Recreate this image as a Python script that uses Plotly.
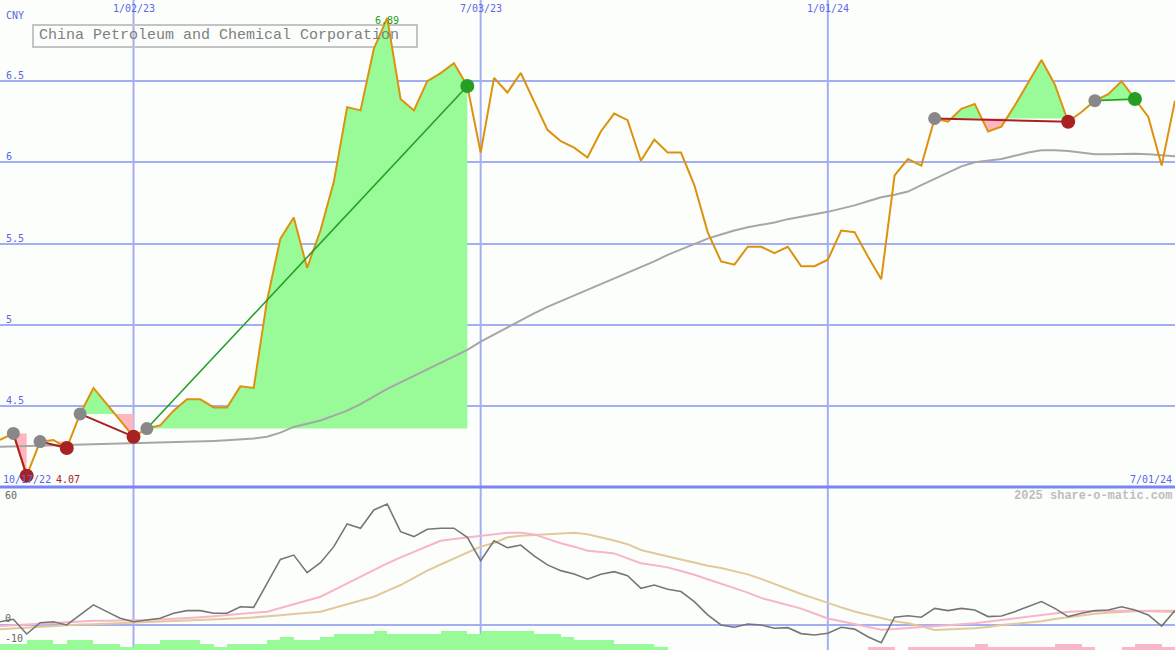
import pandas as pd
import plotly.graph_objects as go

# ---------------- data ----------------
start_date = "2022-10-24"
n_weeks = 89
dates = pd.date_range(start_date, periods=n_weeks, freq="7D")

price = [4.29, 4.33, 4.07, 4.28, 4.29, 4.24, 4.45, 4.61, 4.51, 4.41,
         4.31, 4.36, 4.38, 4.47, 4.54, 4.54, 4.49, 4.49, 4.62, 4.61,
         5.15, 5.53, 5.66, 5.35, 5.58, 5.88, 6.34, 6.32, 6.70, 6.89,
         6.39, 6.32, 6.50, 6.55, 6.61, 6.47, 6.06, 6.52, 6.43, 6.55,
         6.37, 6.20, 6.13, 6.09, 6.03, 6.19, 6.30, 6.26, 6.01, 6.14,
         6.06, 6.06, 5.86, 5.57, 5.39, 5.37, 5.48, 5.48, 5.44, 5.48,
         5.36, 5.36, 5.40, 5.58, 5.57, 5.42, 5.28, 5.92, 6.02, 5.98,
         6.27, 6.25, 6.33, 6.36, 6.19, 6.22, 6.35, 6.49, 6.63, 6.48,
         6.25, 6.31, 6.38, 6.42, 6.50, 6.39, 6.28, 5.98, 6.38]

ma_long = [4.248, 4.25, 4.252, 4.254, 4.256, 4.258, 4.26, 4.263, 4.266, 4.269,
           4.272, 4.274, 4.276, 4.277, 4.279, 4.281, 4.284, 4.288, 4.293, 4.299,
           4.31, 4.335, 4.37, 4.39, 4.41, 4.44, 4.47, 4.51, 4.56, 4.605,
           4.645, 4.685, 4.725, 4.765, 4.805, 4.845, 4.895, 4.94, 4.985, 5.03,
           5.07, 5.11, 5.145, 5.18, 5.215, 5.25, 5.285, 5.32, 5.355, 5.39,
           5.43, 5.465, 5.5, 5.53, 5.555, 5.58, 5.6, 5.615, 5.63, 5.65,
           5.665, 5.68, 5.695, 5.715, 5.735, 5.76, 5.785, 5.8, 5.82, 5.86,
           5.9, 5.94, 5.975, 6.0, 6.01, 6.02, 6.04, 6.06, 6.075, 6.075,
           6.07, 6.06, 6.05, 6.05, 6.053, 6.053, 6.05, 6.045, 6.038]

# swing segments: start pivot index, end pivot index, direction
seg_start = [1, 3, 6, 11, 70, 82]
seg_end = [2, 5, 10, 35, 80, 85]
seg_dir = ["down", "down", "down", "up", "down", "up"]

momentum = [1.6, 2.8, -4.4, 1.1, 1.6, 0.0, 4.9, 9.8, 6.5, 3.3,
            1.6, 2.4, 3.3, 5.7, 7.0, 7.0, 5.7, 5.7, 8.9, 8.6,
            20.3, 32.0, 34.1, 25.5, 30.4, 38.2, 49.3, 47.2, 56.1, 59.0,
            45.5, 43.1, 46.7, 47.2, 47.2, 42.8, 31.4, 41.1, 37.7, 39.0,
            33.7, 29.3, 26.5, 24.9, 22.3, 24.7, 26.0, 24.0, 17.9, 19.5,
            17.4, 16.3, 11.4, 4.9, 0.0, -1.1, 0.5, 0.0, -1.6, -1.3,
            -4.2, -4.9, -4.0, -1.1, -2.0, -5.7, -8.6, 3.8, 4.5, 3.8,
            8.1, 7.0, 8.1, 7.3, 4.1, 4.4, 6.5, 8.9, 11.4, 8.1,
            4.1, 5.7, 7.0, 7.3, 8.9, 7.3, 4.9, -0.5, 7.0]

signal_fast = [-0.5, -0.1, 0.3, 0.8, 1.1, 1.4, 1.7, 2.1, 2.1, 2.1,
               2.1, 2.4, 2.7, 3.0, 3.3, 3.8, 4.3, 4.9, 5.4, 5.9,
               6.5, 8.3, 10.1, 12.0, 13.8, 17.0, 20.3, 23.6, 26.8, 30.0,
               33.0, 35.8, 38.5, 41.1, 41.9, 42.7, 43.4, 44.5, 45.0, 45.0,
               44.2, 42.0, 39.9, 38.2, 36.2, 35.6, 34.9, 32.5, 30.1, 29.1,
               28.1, 26.3, 24.5, 22.3, 20.3, 18.0, 15.8, 13.2, 11.5, 9.8,
               8.0, 5.6, 3.2, 1.8, 0.4, -1.0, -2.3, -2.0, -1.6, -1.2,
               -0.7, -0.2, 0.3, 0.8, 1.6, 2.4, 3.2, 4.1, 5.0, 5.8,
               6.5, 6.7, 6.9, 7.0, 7.0, 7.0, 6.7, 6.3, 6.3]

signal_slow = [-2.1, -1.7, -1.3, -0.9, -0.5, 0.0, 0.2, 0.4, 0.6, 0.8,
               1.1, 1.3, 1.6, 1.9, 2.2, 2.4, 2.7, 3.0, 3.3, 3.7,
               4.1, 4.7, 5.3, 5.9, 6.5, 8.3, 10.1, 11.9, 13.8, 16.6,
               19.5, 23.0, 26.5, 29.5, 32.5, 35.5, 38.2, 40.0, 42.8, 43.5,
               43.9, 44.3, 44.7, 45.0, 44.2, 42.8, 41.2, 39.4, 36.6, 35.0,
               33.3, 31.9, 30.5, 28.9, 27.8, 26.3, 24.7, 22.5, 20.0, 17.6,
               15.1, 13.0, 10.7, 8.6, 6.6, 4.9, 3.5, 1.8, 0.8, -0.6,
               -2.4, -2.2, -1.9, -1.6, -1.0, 0.0, 0.6, 1.2, 1.8, 2.9,
               3.8, 4.6, 5.5, 6.0, 6.5, 6.7, 6.9, 7.0, 7.0]

histogram = [2, 2, 3, 3, 2, 3, 3, 2, 2, 1,
             2, 2, 3, 3, 3, 2, 1, 2, 2, 2,
             3, 4, 3, 3, 4, 5, 5, 5, 6, 5,
             5, 5, 5, 6, 6, 5, 6, 6, 6, 6,
             5, 5, 4, 3, 3, 3, 2, 2, 2, 1,
             0, 0, 0, 0, 0, 0, 0, 0, 0, 0,
             0, 0, 0, 0, 0, -1, -1, 0, -1, -1,
             -1, -1, -1, -2, -1, -1, -1, -1, -1, -2,
             -2, -1, 0, 0, -1, -2, -2, -1, 0]

price_ticks = [4.5, 5, 5.5, 6, 6.5]
price_tick_labels = ["4.5", "5", "5.5", "6", "6.5"]
grid_dates = ["2023-01-02", "2023-07-03", "2024-01-01"]
grid_date_labels = ["1/02/23", "7/03/23", "1/01/24"]
start_label = "10/17/22"
end_label = "7/01/24"
title = "China Petroleum and Chemical Corporation"
currency = "CNY"
high_label = "6.89"
low_label = "4.07"
credit = "2025 share-o-matic.com"
lower_ticks = [60, 0, -10]
lower_tick_labels = ["60", "0", "-10"]

# ---------------- styling ----------------
W, H = 1175, 650
LOWER_FRAC = 163 / 650
BG = "#fcfefc"
GRID = "#a4aef2"
BLUE_TXT = "#5a68e6"
PRICE_COL = "#dc920c"
GREEN_FILL = "#98fb98"
PINK_FILL = "#ffb6c1"
RED_DOT = "#a82222"
GREEN_DOT = "#269e26"
GRAY_DOT = "#888888"
FONT = "DejaVu Sans Mono, Liberation Mono, monospace"
TFONT = "Liberation Mono, DejaVu Sans Mono, monospace"


def px_x(p):
    return p / W


def px_y(p):
    return 1 - p / H


def clipped_polygon(xs, ys, level, above):
    pts = []
    for k in range(len(xs)):
        if k > 0:
            y0, y1 = ys[k - 1], ys[k]
            if (y0 - level) * (y1 - level) < 0:
                t = (level - y0) / (y1 - y0)
                pts.append((xs[k - 1] + (xs[k] - xs[k - 1]) * t, level))
        y = max(ys[k], level) if above else min(ys[k], level)
        pts.append((xs[k], y))
    poly = [(xs[0], level)] + pts + [(xs[-1], level), (xs[0], level)]
    return [p[0] for p in poly], [p[1] for p in poly]


fig = go.Figure()

# swing fills
for s, e in zip(seg_start, seg_end):
    xs = list(dates[s:e + 1])
    ys = price[s:e + 1]
    lvl = price[s]
    for above, col in ((True, GREEN_FILL), (False, PINK_FILL)):
        px_, py_ = clipped_polygon(xs, ys, lvl, above)
        fig.add_trace(go.Scatter(x=px_, y=py_, mode="lines", fill="toself",
                                 fillcolor=col, line=dict(width=0),
                                 hoverinfo="skip", showlegend=False,
                                 xaxis="x", yaxis="y"))

# long moving average
fig.add_trace(go.Scatter(x=dates, y=ma_long, mode="lines",
                         line=dict(color="#a6a6a6", width=2),
                         showlegend=False, xaxis="x", yaxis="y"))
# price
fig.add_trace(go.Scatter(x=dates, y=price, mode="lines",
                         line=dict(color=PRICE_COL, width=2),
                         showlegend=False, xaxis="x", yaxis="y"))

# swing connecting lines and pivot dots
for s, e, d in zip(seg_start, seg_end, seg_dir):
    col = RED_DOT if d == "down" else GREEN_DOT
    fig.add_trace(go.Scatter(x=[dates[s], dates[e]], y=[price[s], price[e]],
                             mode="lines", line=dict(color=col, width=2 if d == "down" else 1.6),
                             showlegend=False, xaxis="x", yaxis="y"))
for s, e, d in zip(seg_start, seg_end, seg_dir):
    col = RED_DOT if d == "down" else GREEN_DOT
    fig.add_trace(go.Scatter(x=[dates[s]], y=[price[s]], mode="markers",
                             marker=dict(color=GRAY_DOT, size=13),
                             showlegend=False, xaxis="x", yaxis="y"))
    fig.add_trace(go.Scatter(x=[dates[e]], y=[price[e]], mode="markers",
                             marker=dict(color=col, size=14),
                             showlegend=False, xaxis="x", yaxis="y"))

# lower panel histogram
hist_abs = [abs(v) for v in histogram]
hist_col = [GREEN_FILL if v > 0 else "#f9b8c9" for v in histogram]
fig.add_trace(go.Bar(x=dates, y=hist_abs, marker=dict(color=hist_col, line=dict(width=0)),
                     width=7 * 24 * 3600 * 1000, offset=0,
                     showlegend=False, xaxis="x", yaxis="y3"))

# lower panel lines
fig.add_trace(go.Scatter(x=dates, y=signal_slow, mode="lines",
                         line=dict(color="#e2c99a", width=2),
                         showlegend=False, xaxis="x", yaxis="y2"))
fig.add_trace(go.Scatter(x=dates, y=signal_fast, mode="lines",
                         line=dict(color="#f8b4c8", width=2),
                         showlegend=False, xaxis="x", yaxis="y2"))
fig.add_trace(go.Scatter(x=dates, y=momentum, mode="lines",
                         line=dict(color="#767676", width=1.6),
                         showlegend=False, xaxis="x", yaxis="y2"))

shapes = []
for gd in grid_dates:
    shapes.append(dict(type="line", xref="x", yref="paper", x0=gd, x1=gd, y0=0, y1=1,
                       line=dict(color=GRID, width=2), layer="below"))
shapes.append(dict(type="line", xref="paper", yref="paper", x0=0, x1=1,
                   y0=LOWER_FRAC, y1=LOWER_FRAC, line=dict(color="#7a86f0", width=3),
                   layer="above"))
shapes.append(dict(type="rect", xref="paper", yref="paper",
                   x0=px_x(33), x1=px_x(417), y0=px_y(47), y1=px_y(25),
                   line=dict(color="#c4c4c4", width=2), fillcolor="rgba(0,0,0,0)",
                   layer="below"))

ann = []
for v, t in zip(price_ticks, price_tick_labels):
    ann.append(dict(x=px_x(4), y=v, xref="paper", yref="y", text=t, showarrow=False,
                    xanchor="left", yanchor="bottom", yshift=-2,
                    font=dict(family=FONT, size=10, color=BLUE_TXT)))
for gd, t in zip(grid_dates, grid_date_labels):
    ann.append(dict(x=gd, y=px_y(1), xref="x", yref="paper", text=t, showarrow=False,
                    xanchor="center", yanchor="top",
                    font=dict(family=FONT, size=10, color=BLUE_TXT)))
ann.append(dict(x=px_x(4), y=px_y(15), xref="paper", yref="paper", text=currency,
                showarrow=False, xanchor="left", yanchor="middle",
                font=dict(family=FONT, size=10, color=BLUE_TXT)))
ann.append(dict(x=px_x(1), y=px_y(479), xref="paper", yref="paper", text=start_label,
                showarrow=False, xanchor="left", yanchor="middle",
                font=dict(family=FONT, size=10, color=BLUE_TXT)))
ann.append(dict(x=px_x(1174), y=px_y(479), xref="paper", yref="paper", text=end_label,
                showarrow=False, xanchor="right", yanchor="middle",
                font=dict(family=FONT, size=10, color=BLUE_TXT)))
ann.append(dict(x=px_x(54), y=px_y(479), xref="paper", yref="paper", text=low_label,
                showarrow=False, xanchor="left", yanchor="middle",
                font=dict(family=FONT, size=10, color=RED_DOT)))
ann.append(dict(x=dates[price.index(max(price))], y=max(price), xref="x", yref="y",
                text=high_label, showarrow=False, xanchor="center", yanchor="middle",
                yshift=-3, font=dict(family=FONT, size=10, color=GREEN_DOT)))
ann.append(dict(x=px_x(37), y=px_y(36), xref="paper", yref="paper", text=title,
                showarrow=False, xanchor="left", yanchor="middle",
                font=dict(family=TFONT, size=15, color="#808080")))
ann.append(dict(x=px_x(1174), y=px_y(496), xref="paper", yref="paper", text="<b>" + credit + "</b>",
                showarrow=False, xanchor="right", yanchor="middle",
                font=dict(family=TFONT, size=12, color="#bdbdbd")))
for v, t in zip(lower_ticks, lower_tick_labels):
    ann.append(dict(x=px_x(3), y=v, xref="paper", yref="y2", text=t, showarrow=False,
                    xanchor="left", yanchor="bottom", yshift=-1,
                    font=dict(family=FONT, size=10, color="#666666")))

fig.update_layout(
    width=W, height=H,
    margin=dict(l=0, r=0, t=0, b=0),
    paper_bgcolor=BG, plot_bgcolor=BG,
    showlegend=False,
    bargap=0,
    xaxis=dict(type="date", range=[dates[0], dates[-1]], showgrid=False,
               showticklabels=False, zeroline=False, showline=False, ticks="",
               domain=[0, 1], anchor="y2"),
    yaxis=dict(domain=[LOWER_FRAC, 1], range=[4.0, 7.0], tickvals=price_ticks,
               showticklabels=False, gridcolor=GRID, gridwidth=2, zeroline=False,
               showline=False, ticks="", anchor="x"),
    yaxis2=dict(domain=[0, LOWER_FRAC], range=[-12.2, 67.3], tickvals=[0],
                showticklabels=False, gridcolor=GRID, gridwidth=2, zeroline=False,
                showline=False, ticks="", anchor="x"),
    yaxis3=dict(overlaying="y2", range=[0, 51.4], visible=False, showgrid=False,
                zeroline=False, anchor="x"),
    shapes=shapes,
    annotations=ann,
)

fig.write_html("out.html", config={"displayModeBar": False},
               post_script="document.body.style.margin='0px';document.body.style.overflow='hidden';")
